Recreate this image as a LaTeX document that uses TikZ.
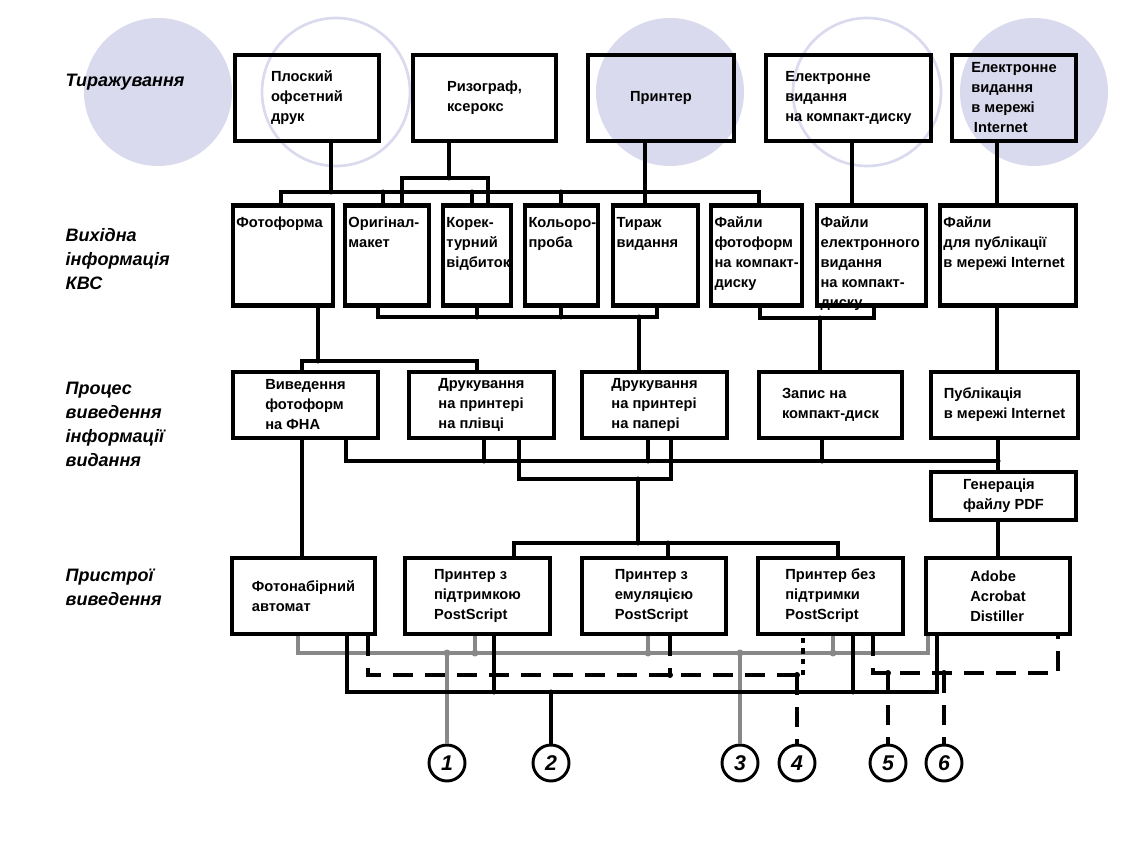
\documentclass[tikz,border=0pt]{standalone}
\usepackage{fontspec}
\setmainfont{Liberation Sans}
\definecolor{lavcirc}{RGB}{218,218,238}
\definecolor{greyline}{RGB}{136,136,136}
\newcommand{\kvscell}[2]{\parbox[c][63pt][t]{#1}{\begin{tabular}[t]{@{}l@{}}#2\end{tabular}}}
\begin{document}
\begin{tikzpicture}[x=0.75pt, y=-0.75pt,
    box/.style={draw, line width=3.2pt, align=left, inner sep=2.5pt, font=\fontsize{11}{15}\selectfont\bfseries},
    kvs/.style={box, inner ysep=6pt},
    lab/.style={anchor=west, align=left, font=\fontsize{13.5}{18}\selectfont\bfseries\itshape},
    conn/.style={line width=2.4pt},
    greyconn/.style={line width=2.8pt, draw=greyline},
    dashln/.style={line width=2.4pt, dash pattern=on 15pt off 9pt},
    dotln/.style={line width=2.4pt, dash pattern=on 4pt off 4pt},
    num/.style={circle, draw, line width=2.2pt, minimum size=27pt, inner sep=0pt, font=\fontsize{16}{16}\selectfont\bfseries\itshape}]
    \fill[white] (0,0) rectangle (1136,852);
    \useasboundingbox (0,0) rectangle (1136,852);

    % Кола
    \fill[lavcirc] (158,92) circle (74);
    \draw[lavcirc, line width=2pt] (336,92) circle (74);
    \fill[lavcirc] (670,92) circle (74);
    \draw[lavcirc, line width=2pt] (867,92) circle (74);
    \fill[lavcirc] (1034,92) circle (74);

    % Рівні
    \node[lab] (l1) at (61,82) {Тиражування};
    \node[lab] (l2) at (61,259) {Вихідна\\інформація\\КВС};
    \node[lab] (l3) at (61,424) {Процес\\виведення\\інформації\\видання};
    \node[lab] (l4) at (61,587) {Пристрої\\виведення};

    % Тиражування
    \node[box, minimum width=107.8pt, minimum height=64.3pt] (t1) at (307,98) {Плоский\\офсетний\\друк};
    \node[box, minimum width=107pt, minimum height=64.3pt] (t2) at (484.5,98) {Ризограф,\\ксерокс};
    \node[box, minimum width=109.3pt, minimum height=64.3pt] (t3) at (661,98) {Принтер};
    \node[box, minimum width=123.5pt, minimum height=64.3pt] (t4) at (848.5,98) {Електронне\\видання\\на компакт-диску};
    \node[box, minimum width=92.8pt, minimum height=64.3pt] (t5) at (1014,98) {Електронне\\видання\\в мережі\\\hspace{2pt}Internet};

    % Вихідна інформація КВС
    \node[kvs] (k1) at (283,255.5) {\kvscell{69.8pt}{Фотоформа}};
    \node[kvs] (k2) at (387,255.5) {\kvscell{57.8pt}{Оригінал-\\макет}};
    \node[kvs] (k3) at (477,255.5) {\kvscell{45.8pt}{Корек-\\турний\\відбиток}};
    \node[kvs] (k4) at (561.5,255.5) {\kvscell{49.5pt}{Кольоро-\\проба}};
    \node[kvs] (k5) at (655.5,255.5) {\kvscell{58.5pt}{Тираж\\видання}};
    \node[kvs] (k6) at (756.5,255.5) {\kvscell{63pt}{Файли\\фотоформ\\на компакт-\\диску}};
    \node[kvs] (k7) at (871.5,255.5) {\kvscell{76.5pt}{Файли\\електронного\\видання\\на компакт-\\диску}};
    \node[kvs] (k8) at (1008,255.5) {\kvscell{96.8pt}{Файли\\для публікації\\в мережі Internet}};

    % Процес виведення
    \node[box, minimum width=108.5pt, minimum height=49.3pt] (v1) at (305.5,405) {Виведення\\фотоформ\\на ФНА};
    \node[box, minimum width=108.5pt, minimum height=49.3pt] (v2) at (481.5,405) {Друкування\\на принтері\\на плівці};
    \node[box, minimum width=108.5pt, minimum height=49.3pt] (v3) at (654.5,405) {Друкування\\на принтері\\на папері};
    \node[box, minimum width=107pt, minimum height=49.3pt] (v4) at (830.5,405) {Запис на\\компакт-диск};
    \node[box, minimum width=110pt, minimum height=49.3pt] (v5) at (1004.5,405) {Публікація\\в мережі Internet};
    \node[box, minimum width=108.5pt, minimum height=35.8pt] (g) at (1003.5,496) {Генерація\\файлу PDF};

    % Пристрої
    \node[box, minimum width=107pt, minimum height=56.8pt] (f1) at (303.5,596) {Фотонабірний\\автомат};
    \node[box, minimum width=108.5pt, minimum height=56.8pt] (p1) at (477.5,596) {Принтер з\\підтримкою\\PostScript};
    \node[box, minimum width=107.8pt, minimum height=56.8pt] (p2) at (654,596) {Принтер з\\емуляцією\\PostScript};
    \node[box, minimum width=108.5pt, minimum height=56.8pt] (p3) at (830.5,596) {Принтер без\\підтримки\\PostScript};
    \node[box, minimum width=107.8pt, minimum height=56.8pt] (ad) at (998,596) {Adobe\\Acrobat\\Distiller};

    % Номери
    \node[num] (n1) at (447,763) {1};
    \node[num] (n2) at (551,763) {2};
    \node[num] (n3) at (740,763) {3};
    \node[num] (n4) at (797,763) {4};
    \node[num] (n5) at (888,763) {5};
    \node[num] (n6) at (944,763) {6};

    % Шини
    \coordinate (b12) at (500,192);
    \coordinate (b12s) at (445,178);
    \coordinate (b23a) at (500,317);
    \coordinate (b23b) at (820,318);
    \coordinate (b23c) at (390,361);
    \coordinate (b34a) at (600,461);
    \coordinate (b34b) at (600,479);
    \coordinate (b34c) at (650,543);
    \coordinate (lg) at (600,653);
    \coordinate (ld) at (600,675);
    \coordinate (le) at (950,673);
    \coordinate (lb) at (600,692);

    % Тиражування -> КВС
    \draw[conn] (k1.north -| 281,0) |- (b12) -| (k6.north -| 759,0);
    \draw[conn] (t1.south -| 331,0) -- (b12 -| 331,0);
    \draw[conn] (b12 -| 383,0) -- (k2.north -| 383,0);
    \draw[conn] (b12 -| 472,0) -- (k3.north -| 472,0);
    \draw[conn] (b12 -| 561,0) -- (k4.north -| 561,0);
    \draw[conn] (k2.north -| 402,0) |- (b12s) -| (k3.north -| 488,0);
    \draw[conn] (t2.south -| 449,0) -- (b12s -| 449,0);
    \draw[conn] (t3.south -| 645,0) -- (k5.north -| 645,0);
    \draw[conn] (t4.south -| 852,0) -- (k7.north -| 852,0);
    \draw[conn] (t5.south -| 997,0) -- (k8.north -| 997,0);
    \foreach \x in {331,383,472,561,645} \fill (\x,192) circle (2.5);
    \fill (449,178) circle (2.5);

    % КВС -> Процес
    \draw[conn] (k2.south -| 378,0) |- (b23a) -| (k5.south -| 657,0);
    \draw[conn] (k3.south -| 477,0) -- (b23a -| 477,0);
    \draw[conn] (k4.south -| 561,0) -- (b23a -| 561,0);
    \draw[conn] (b23a -| 639,0) -- (v3.north -| 639,0);
    \draw[conn] (k6.south -| 760,0) |- (b23b) -| (k7.south -| 874,0);
    \draw[conn] (b23b) -- (v4.north -| 820,0);
    \draw[conn] (v1.north -| 302,0) |- (b23c) -| (v2.north -| 477,0);
    \draw[conn] (k1.south -| 318,0) -- (b23c -| 318,0);
    \draw[conn] (k8.south -| 997,0) -- (v5.north -| 997,0);
    \foreach \x in {477,561,639} \fill (\x,317) circle (2.5);
    \fill (820,318) circle (2.5);
    \fill (318,361) circle (2.5);

    % Процес -> Пристрої
    \draw[conn] (v1.south -| 302,0) -- (f1.north -| 302,0);
    \draw[conn] (v1.south -| 346,0) |- (b34a) -- (b34a -| 998,0);
    \draw[conn] (v2.south -| 484,0) -- (b34a -| 484,0);
    \draw[conn] (v3.south -| 648,0) -- (b34a -| 648,0);
    \draw[conn] (v4.south -| 822,0) -- (b34a -| 822,0);
    \draw[conn] (v5.south -| 998,0) -- (g.north -| 998,0);
    \draw[conn] (v2.south -| 519,0) |- (b34b) -| (v3.south -| 671,0);
    \draw[conn] (p1.north -| 514,0) |- (b34c) -| (p3.north -| 838,0);
    \draw[conn] (b34b -| 638,0) -- (b34c -| 638,0);
    \draw[conn] (b34c -| 668,0) -- (p2.north -| 668,0);
    \draw[conn] (g.south -| 998,0) -- (ad.north -| 998,0);
    \foreach \x in {484,648,822,998} \fill (\x,461) circle (2.5);
    \fill (638,479) circle (2.5);
    \foreach \x in {638,668} \fill (\x,543) circle (2.5);

    % Виходи
    \draw[greyconn] (f1.south -| 298,0) |- (lg) -| (ad.south -| 928,0);
    \draw[greyconn] (lg -| 475,0) -- (p1.south -| 475,0);
    \draw[greyconn] (lg -| 648,0) -- (p2.south -| 648,0);
    \draw[greyconn] (lg -| 833,0) -- (p3.south -| 833,0);
    \draw[greyconn] (lg -| 447,0) -- (n1);
    \draw[greyconn] (lg -| 740,0) -- (n3);
    \foreach \x in {447,475,648,740,833} \fill[greyline] (\x,653) circle (3.5);

    \draw[conn] (f1.south -| 347,0) |- (lb) -| (ad.south -| 937,0);
    \draw[conn] (p1.south -| 494,0) -- (lb -| 494,0);
    \draw[conn] (p3.south -| 853,0) -- (lb -| 853,0);
    \draw[conn] (lb -| 551,0) -- (n2);
    \foreach \x in {494,551,853} \fill (\x,692) circle (2.5);

    \draw[dashln] (f1.south -| 368,0) |- (ld -| 803,0);
    \draw[dotln] (ld -| 803,0) -- (p3.south -| 803,0);
    \draw[dashln] (p2.south -| 670,0) -- (ld -| 670,0);
    \draw[dashln] (ld -| 797,0) -- (n4);
    \foreach \x in {670,797} \fill (\x,675) circle (3);

    \draw[dashln] (p3.south -| 873,0) |- (le) -| (ad.south -| 1058,0);
    \draw[dashln] (le -| 888,0) -- (n5);
    \draw[dashln] (le -| 944,0) -- (n6);
    \foreach \x in {888,944} \fill (\x,673) circle (3);
\end{tikzpicture}
\end{document}
